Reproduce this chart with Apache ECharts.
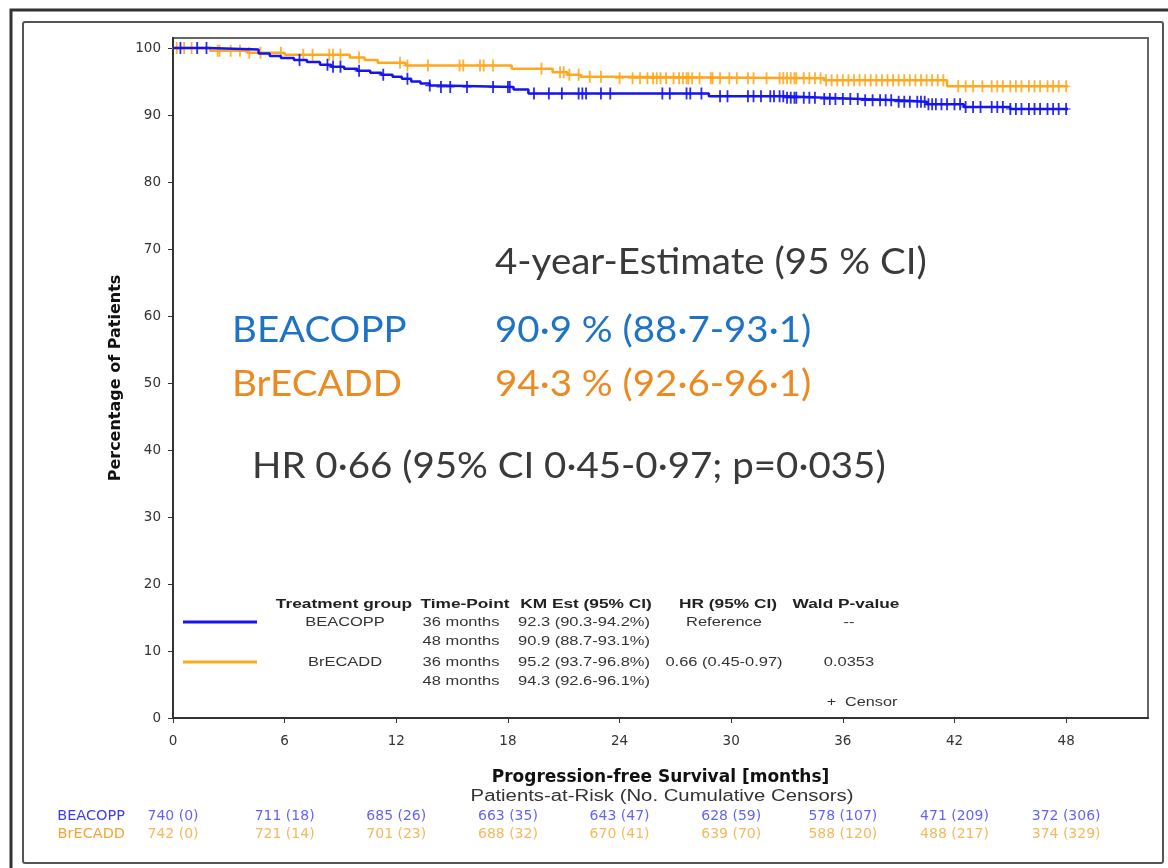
<!DOCTYPE html>
<html><head><meta charset="utf-8">
<script src="https://cdn.jsdelivr.net/npm/echarts@6/dist/echarts.min.js"></script>
<style>html,body{margin:0;padding:0;background:#fff}#c{width:1168px;height:868px}</style>
</head><body><div id="c"></div>
<script>
// ---- data ----
const xTicks = [0, 6, 12, 18, 24, 30, 36, 42, 48];
const yTicks = [0, 10, 20, 30, 40, 50, 60, 70, 80, 90, 100];

// Kaplan-Meier step curves (time in months, survival %)
const beacoppTime = [0, 1.9, 4.6, 5.2, 5.8, 6.5, 7.2, 7.9, 8.5, 9.2, 9.9, 10.6, 11.2, 11.8, 12.3, 12.8, 13.3, 13.8, 14.3, 18.3, 19.1, 28.8, 33.0, 35.0, 37.0, 39.0, 40.5, 42.5, 45.0, 48.1];
const beacoppSurv = [100, 99.8, 99.2, 98.8, 98.5, 98.2, 97.9, 97.5, 97.2, 96.9, 96.6, 96.3, 96.0, 95.7, 95.4, 95.0, 94.7, 94.4, 94.2, 93.8, 93.2, 92.8, 92.6, 92.4, 92.2, 92.0, 91.6, 91.2, 90.9, 90.9];
const brecaddTime = [0, 2.0, 4.0, 6.0, 9.5, 10.3, 11.0, 12.5, 18.2, 20.4, 21.2, 21.9, 23.5, 35.0, 41.6, 48.1];
const brecaddSurv = [100, 99.6, 99.3, 99.0, 98.6, 98.2, 97.8, 97.4, 96.9, 96.4, 96.0, 95.7, 95.5, 95.2, 94.3, 94.3];

// censoring times (months)
const beacoppCensor = [0.4, 1.3, 1.8, 6.8, 8.3, 8.6, 9.0, 10.0, 11.3, 12.6, 13.8, 14.4, 14.9, 15.8, 17.2, 18.0, 18.1,
  19.4, 20.2, 20.9, 21.8, 22.0, 22.2, 23.0, 23.5, 26.3, 26.7, 27.6, 27.8, 28.4, 29.4, 29.8, 30.9, 31.2, 31.6, 32.1, 32.3,
  32.6, 32.8, 33.0, 33.2, 33.4, 33.5, 33.9, 34.2, 34.5, 35.0, 35.3, 35.6, 36.0, 36.4, 36.8, 37.2, 37.6, 38.0, 38.3, 38.6,
  39.0, 39.3, 39.6, 40.0, 40.2, 40.4, 40.6, 40.8, 41.0, 41.3, 41.6, 42.0, 42.3, 42.6, 43.0, 43.4, 44.0, 44.3, 44.6, 45.0,
  45.3, 45.6, 46.0, 46.3, 46.6, 47.0, 47.3, 47.6, 48.0];
const brecaddCensor = [0.2, 0.6, 1.0, 2.4, 2.5, 3.1, 3.6, 4.1, 4.7, 5.8, 7.0, 7.5, 8.4, 8.6, 9.0, 10.0, 12.2, 12.6, 13.7,
  15.4, 15.6, 16.5, 16.7, 17.2, 19.8, 20.8, 21.0, 21.3, 21.8, 22.4, 23.0, 24.0, 24.7, 25.1, 25.5, 25.8, 26.0, 26.2, 26.5,
  26.9, 27.2, 27.4, 27.6, 27.7, 27.9, 28.3, 28.9, 29.0, 29.4, 29.9, 30.3, 30.9, 31.2, 31.9, 32.6, 32.8, 33.0, 33.2, 33.4,
  33.5, 33.9, 34.2, 34.5, 34.8, 35.1, 35.4, 35.7, 36.0, 36.3, 36.6, 36.9, 37.2, 37.5, 37.8, 38.1, 38.4, 38.7, 39.0, 39.3,
  39.6, 39.9, 40.2, 40.5, 40.8, 41.1, 41.4, 42.2, 42.6, 43.0, 43.5, 44.0, 44.3, 44.6, 45.0, 45.3, 45.6, 46.0, 46.3, 46.6,
  47.0, 47.3, 47.6, 48.0];

// patients at risk (no. cumulative censors) at each x tick
const riskGroups = ['BEACOPP', 'BrECADD'];
const beacoppAtRisk = [740, 711, 685, 663, 643, 628, 578, 471, 372];
const beacoppCumCens = [0, 18, 26, 35, 47, 59, 107, 209, 306];
const brecaddAtRisk = [742, 721, 701, 688, 670, 639, 588, 488, 374];
const brecaddCumCens = [0, 14, 23, 32, 41, 70, 120, 217, 329];

// legend table
const tableHeaders = ['Treatment group', 'Time-Point', 'KM Est (95% CI)', 'HR (95% CI)', 'Wald P-value'];
const tableRows = [
  ['BEACOPP', '36 months', '92.3 (90.3-94.2%)', 'Reference', '--'],
  ['', '48 months', '90.9 (88.7-93.1%)', '', ''],
  ['BrECADD', '36 months', '95.2 (93.7-96.8%)', '0.66 (0.45-0.97)', '0.0353'],
  ['', '48 months', '94.3 (92.6-96.1%)', '', '']
];

// ---- styles ----
const BLUE = '#1414f0';
const ORANGE = '#ffa71f';
const BLUE_T = '#3c3cf0';
const ORANGE_T = '#f2a632';
const SANS = '"DejaVu Sans"';

function kmPairs(t, s) { return t.map((v, i) => [v, s[i]]); }
function survAt(t, s, x) { let v = s[0]; for (let i = 0; i < t.length; i++) { if (t[i] <= x) v = s[i]; } return v; }
function censorPairs(ct, t, s) { return ct.map(x => [x, survAt(t, s, x)]); }

const plus = 'path://M4,0h2v4.5h4v1h-4v4.5h-2v-4.5h-4v-1h4z';

const chart = echarts.init(document.getElementById('c'));
const G = { left: 173, top: 38, width: 975, height: 680, show: true, borderColor: '#666', borderWidth: 2 };
const XMAX = 52.4;

const colX = [344, 465, 586, 728, 846];
const cellX = [345, 461, 584, 724, 849];
const rowY = [622, 641, 662, 681];
function big(x, y, text, color) {
  return { type: 'text', x: x, y: y, scaleX: 1.04, style: { text: text, x: 0, y: 0, font: '37px Lato', fill: color, verticalAlign: 'middle' } };
}
const graphic = [
  { type: 'rect', shape: { x: 11, y: 10, width: 1180, height: 900 }, style: { fill: 'none', stroke: '#333', lineWidth: 3 }, silent: true },
  { type: 'rect', shape: { x: 23, y: 22, width: 1140, height: 841, r: 2 }, style: { fill: 'none', stroke: '#555', lineWidth: 2 }, silent: true },
  big(495, 262, '4-year-Estimate (95 % CI)', '#3a3a3a'),
  big(232, 330, 'BEACOPP', '#1e73c6'),
  big(495, 330, '90·9 % (88·7-93·1)', '#1e73c6'),
  big(232, 384, 'BrECADD', '#ec8a22'),
  big(495, 384, '94·3 % (92·6-96·1)', '#ec8a22'),
  big(252, 466, 'HR 0·66 (95% CI 0·45-0·97; p=0·035)', '#3a3a3a'),
  { type: 'text', x: 662, y: 797, scaleX: 1.27, style: { text: 'Patients-at-Risk (No. Cumulative Censors)', x: 0, y: 0, font: '16px "Liberation Sans"', fill: '#333', align: 'center', verticalAlign: 'middle' } },
  { type: 'line', shape: { x1: 183, y1: 622, x2: 257, y2: 622 }, style: { stroke: BLUE, lineWidth: 3 } },
  { type: 'line', shape: { x1: 183, y1: 662, x2: 257, y2: 662 }, style: { stroke: ORANGE, lineWidth: 3 } },
  { type: 'text', x: 862, y: 702, scaleX: 1.2, style: { text: '+  Censor', x: 0, y: 0, font: '13.5px "Liberation Sans"', fill: '#333', align: 'center', verticalAlign: 'middle' } }
];
tableHeaders.forEach((h, i) => graphic.push({ type: 'text', x: colX[i], y: 604, scaleX: 1.28,
  style: { text: h, x: 0, y: 0, font: 'bold 13.5px "Liberation Sans"', fill: '#222', align: 'center', verticalAlign: 'middle' } }));
tableRows.forEach((row, r) => row.forEach((cell, i) => {
  if (!cell) return;
  graphic.push({ type: 'text', x: cellX[i], y: rowY[r], scaleX: 1.22,
    style: { text: cell, x: 0, y: 0, font: '13.5px "Liberation Sans"', fill: '#333', align: 'center', verticalAlign: 'middle' } });
}));

function riskLabels(n, c) { return n.map((v, i) => `${v} (${c[i]})`); }
const beacoppRiskText = riskLabels(beacoppAtRisk, beacoppCumCens);
const brecaddRiskText = riskLabels(brecaddAtRisk, brecaddCumCens);

chart.setOption({
  animation: false,
  backgroundColor: '#fff',
  textStyle: { fontFamily: SANS },
  grid: [G, { left: 173, top: 807, width: 975, height: 36 }],
  xAxis: [{
    gridIndex: 0, type: 'value', min: 0, max: XMAX, interval: 6,
    name: 'Progression-free Survival [months]', nameLocation: 'middle', nameGap: 51,
    nameTextStyle: { fontWeight: 'bold', fontSize: 17, color: '#111', fontFamily: SANS },
    axisLine: { lineStyle: { color: '#333', width: 2 } },
    axisTick: { customValues: xTicks, length: 5, lineStyle: { color: '#333' } },
    axisLabel: { customValues: xTicks, color: '#333', fontSize: 13.5, margin: 16, fontFamily: SANS },
    splitLine: { show: false }
  }, {
    gridIndex: 1, type: 'value', min: 0, max: XMAX, show: false
  }],
  yAxis: [{
    gridIndex: 0, type: 'value', min: 0, max: 101.5, interval: 10,
    name: 'Percentage of Patients', nameLocation: 'middle', nameGap: 46, nameRotate: 90,
    nameTextStyle: { fontWeight: 'bold', fontSize: 16, color: '#111', fontFamily: SANS },
    axisLine: { show: true, lineStyle: { color: '#333', width: 2 } },
    axisTick: { show: true, customValues: yTicks, length: 5, lineStyle: { color: '#333' } },
    axisLabel: { customValues: yTicks, color: '#333', fontSize: 13.5, margin: 12, fontFamily: SANS },
    splitLine: { show: false }
  }, {
    gridIndex: 1, type: 'category', data: riskGroups.slice().reverse(),
    axisLine: { show: false }, axisTick: { show: false },
    axisLabel: {
      interval: 0, margin: 48, fontSize: 14.5, fontFamily: SANS,
      formatter: v => v === 'BEACOPP' ? '{b|' + v + '}' : '{o|' + v + '}',
      rich: { b: { color: BLUE_T, fontSize: 14.5, fontFamily: SANS }, o: { color: ORANGE_T, fontSize: 14.5, fontFamily: SANS } }
    }
  }],
  series: [
    { type: 'line', name: 'BEACOPP', step: 'end', data: kmPairs(beacoppTime, beacoppSurv), showSymbol: false, symbol: 'none',
      lineStyle: { color: BLUE, width: 2.5 }, xAxisIndex: 0, yAxisIndex: 0, z: 3 },
    { type: 'line', name: 'BrECADD', step: 'end', data: kmPairs(brecaddTime, brecaddSurv), showSymbol: false, symbol: 'none',
      lineStyle: { color: ORANGE, width: 2.5 }, xAxisIndex: 0, yAxisIndex: 0, z: 2 },
    { type: 'scatter', data: censorPairs(brecaddCensor, brecaddTime, brecaddSurv), symbol: plus, symbolSize: [9, 12],
      itemStyle: { color: ORANGE, opacity: 0.9 }, xAxisIndex: 0, yAxisIndex: 0, z: 2 },
    { type: 'scatter', data: censorPairs(beacoppCensor, beacoppTime, beacoppSurv), symbol: plus, symbolSize: [9, 12],
      itemStyle: { color: BLUE, opacity: 0.9 }, xAxisIndex: 0, yAxisIndex: 0, z: 3 },
    { type: 'scatter', xAxisIndex: 1, yAxisIndex: 1, symbolSize: 0,
      data: xTicks.map((t, i) => ({ value: [t, 'BEACOPP'], label: { formatter: beacoppRiskText[i] } })),
      label: { show: true, position: 'inside', color: BLUE_T, fontSize: 14, fontFamily: SANS } },
    { type: 'scatter', xAxisIndex: 1, yAxisIndex: 1, symbolSize: 0,
      data: xTicks.map((t, i) => ({ value: [t, 'BrECADD'], label: { formatter: brecaddRiskText[i] } })),
      label: { show: true, position: 'inside', color: ORANGE_T, fontSize: 14, fontFamily: SANS } }
  ],
  graphic: graphic
});
</script></body></html>
